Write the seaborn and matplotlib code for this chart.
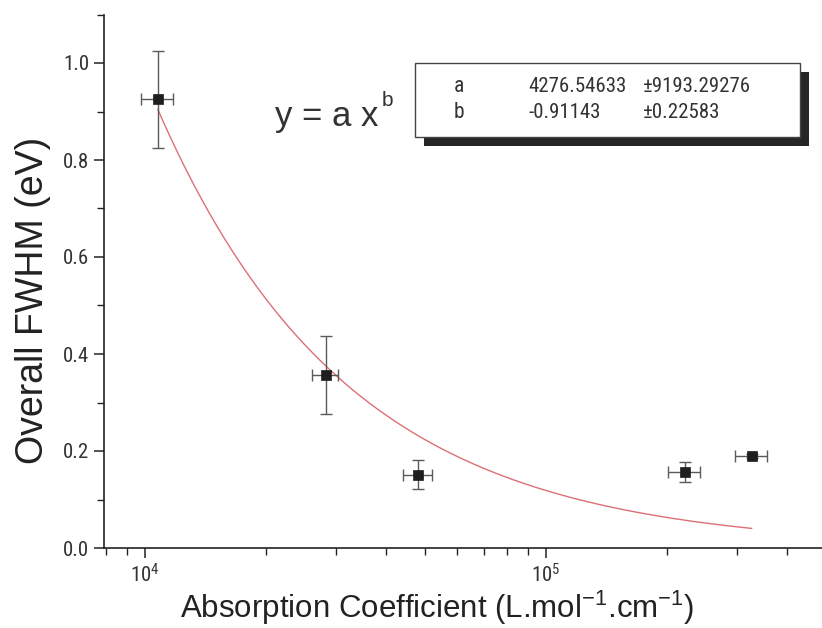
import numpy as np
import pandas as pd
import matplotlib
matplotlib.use("Agg")
import matplotlib.pyplot as plt
import seaborn as sns
from matplotlib.patches import Rectangle
from matplotlib.ticker import LogLocator, MultipleLocator, NullFormatter, FormatStrFormatter

# ---- data ----
absorption = [1.076e4, 2.82e4, 4.80e4, 2.22e5, 3.26e5]
absorption_err = [1000, 2100, 4000, 20000, 30000]
fwhm = [0.925, 0.357, 0.151, 0.157, 0.189]
fwhm_err = [0.100, 0.080, 0.030, 0.020, 0.004]

fit_a = 4276.54633
fit_a_err = 9193.29276
fit_b = -0.91143
fit_b_err = 0.22583

param_names = ["a", "b"]
param_values = ["4276.54633", "-0.91143"]
param_errors = ["\u00b19193.29276", "\u00b10.22583"]

sns.set_style("ticks")
plt.rcParams['font.family'] = ['Liberation Sans', 'DejaVu Sans']
plt.rcParams['mathtext.default'] = 'regular'
NARROW = ['Roboto Condensed', 'DejaVu Sans Condensed', 'Liberation Sans Narrow',
          'Roboto', 'Liberation Sans', 'DejaVu Sans']

W, H = 822, 628
fig = plt.figure(figsize=(W / 100, H / 100), dpi=100)
fig.patch.set_facecolor('white')
ax = fig.add_axes([104 / W, 1 - 548 / H, 1 - 104 / W, (548 - 14.5) / H])
ax.set_facecolor('white')

df = pd.DataFrame({"absorption": absorption, "fwhm": fwhm})

# fitted power law y = a x^b (parameters shown in the chart)
xf = np.geomspace(absorption[0], absorption[-1], 300)
fit_df = pd.DataFrame({"x": xf, "y": fit_a * xf ** fit_b})
sns.lineplot(data=fit_df, x="x", y="y", color='#dc7076', lw=1.0,
             estimator=None, ax=ax, zorder=2)

ax.errorbar(absorption, fwhm, xerr=absorption_err, yerr=fwhm_err, fmt='none',
            ecolor='#5a5a5a', elinewidth=1.0, capsize=4, capthick=1.0, zorder=3)

sns.scatterplot(data=df, x="absorption", y="fwhm", marker='s', s=62,
                color='#1e1e1e', edgecolor='#1e1e1e', linewidth=0.5,
                ax=ax, zorder=5)

ax.set_xscale('log')
ax.set_xlim(7.9e3, 4.88e5)
ax.set_ylim(0, 1.1)

ax.yaxis.set_major_locator(MultipleLocator(0.2))
ax.yaxis.set_minor_locator(MultipleLocator(0.1))
ax.yaxis.set_major_formatter(FormatStrFormatter('%.1f'))
ax.xaxis.set_major_locator(LogLocator(base=10, numticks=10))
ax.xaxis.set_minor_locator(LogLocator(base=10, subs=np.arange(2, 10), numticks=20))
ax.xaxis.set_minor_formatter(NullFormatter())

for s in ['top', 'right']:
    ax.spines[s].set_visible(False)
for s in ['left', 'bottom']:
    ax.spines[s].set_color('#222222')
    ax.spines[s].set_linewidth(1.2)

ax.tick_params(axis='both', which='major', direction='out', length=7, width=1.1,
               color='#222222', labelcolor='#333333', labelsize=15)
ax.tick_params(axis='x', which='major', labelsize=15, pad=4)
ax.tick_params(axis='both', which='minor', direction='out', length=5, width=1.0,
               color='#222222')
for lab in ax.get_xticklabels() + ax.get_yticklabels():
    lab.set_family(NARROW)

ax.set_xlabel("Absorption Coefficient (L.mol$^{-1}$.cm$^{-1}$)", fontsize=22.5,
              color='#222222')
ax.xaxis.set_label_coords((437 - 104) / (W - 104), -(608 - 548) / (548 - 14.5))
ax.xaxis.label.set_va('center')
ax.set_ylabel("Overall FWHM (eV)", fontsize=27, color='#222222')
ax.yaxis.set_label_coords(-(104 - 33) / (W - 104), (548 - 300) / (548 - 14.5))
ax.yaxis.label.set_va('center')

# equation text
fig.text(275 / W, 1 - 126 / H, "y = a x", fontsize=25,
         color='#333333', ha='left', va='baseline')
fig.text(382 / W, 1 - 100 / H, "b", fontsize=15,
         color='#333333', ha='left', va='center')

# parameter box with shadow
bx0, by0, bx1, by1 = 415, 63, 800, 137
sh = 9
fig.patches.append(Rectangle(((bx0 + sh) / W, 1 - (by1 + sh) / H),
                             (bx1 - bx0) / W, (by1 - by0) / H,
                             transform=fig.transFigure, facecolor='#262626',
                             edgecolor='none', zorder=1))
fig.patches.append(Rectangle((bx0 / W, 1 - by1 / H), (bx1 - bx0) / W,
                             (by1 - by0) / H, transform=fig.transFigure,
                             facecolor='white', edgecolor='#444444', lw=1.0,
                             zorder=2))
row_y = [87, 113]
for i in range(2):
    fig.text(454 / W, 1 - row_y[i] / H, param_names[i], fontsize=15.5, family=NARROW,
             color='#333333', va='center', ha='left')
    fig.text(528 / W, 1 - row_y[i] / H, param_values[i], fontsize=15, family=NARROW,
             color='#333333', va='center', ha='left')
    fig.text(643 / W, 1 - row_y[i] / H, param_errors[i], fontsize=15, family=NARROW,
             color='#333333', va='center', ha='left')

fig.savefig("out.png", dpi=100, facecolor='white')
